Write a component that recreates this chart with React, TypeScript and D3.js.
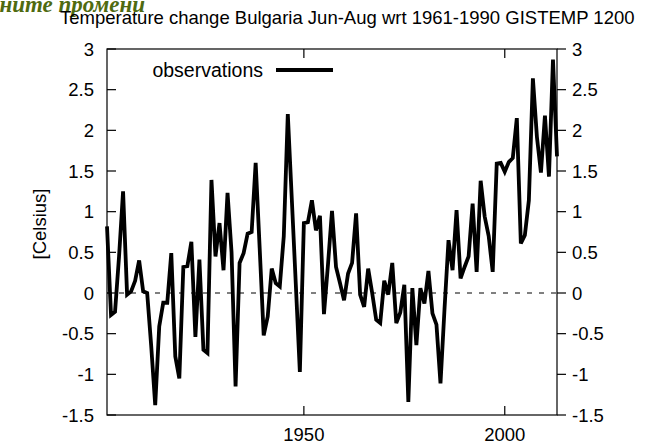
import React from "react";
import * as d3 from "d3";

const years: number[] = [
  1901, 1902, 1903, 1904, 1905, 1906, 1907, 1908, 1909, 1910,
  1911, 1912, 1913, 1914, 1915, 1916, 1917, 1918, 1919, 1920,
  1921, 1922, 1923, 1924, 1925, 1926, 1927, 1928, 1929, 1930,
  1931, 1932, 1933, 1934, 1935, 1936, 1937, 1938, 1939, 1940,
  1941, 1942, 1943, 1944, 1945, 1946, 1947, 1948, 1949, 1950,
  1951, 1952, 1953, 1954, 1955, 1956, 1957, 1958, 1959, 1960,
  1961, 1962, 1963, 1964, 1965, 1966, 1967, 1968, 1969, 1970,
  1971, 1972, 1973, 1974, 1975, 1976, 1977, 1978, 1979, 1980,
  1981, 1982, 1983, 1984, 1985, 1986, 1987, 1988, 1989, 1990,
  1991, 1992, 1993, 1994, 1995, 1996, 1997, 1998, 1999, 2000,
  2001, 2002, 2003, 2004, 2005, 2006, 2007, 2008, 2009, 2010,
  2011, 2012, 2013,
];

const observations: number[] = [
  0.82, -0.27, -0.23, 0.45, 1.25, -0.02, 0.02, 0.15, 0.4, 0.02,
  0.0, -0.65, -1.38, -0.41, -0.12, -0.12, 0.49, -0.78, -1.05, 0.32,
  0.33, 0.63, -0.54, 0.41, -0.7, -0.74, 1.39, 0.45, 0.86, 0.28,
  1.23, 0.5, -1.15, 0.37, 0.49, 0.73, 0.75, 1.6, 0.55, -0.52,
  -0.29, 0.3, 0.12, 0.08, 0.7, 2.2, 1.15, 0.1, -0.97, 0.86,
  0.87, 1.14, 0.77, 0.95, -0.26, 0.35, 1.01, 0.32, 0.12, -0.09,
  0.24, 0.37, 0.98, -0.02, -0.17, 0.3, 0.0, -0.33, -0.37, 0.15,
  -0.02, 0.37, -0.37, -0.24, 0.1, -1.34, 0.06, -0.64, 0.06, -0.13,
  0.27, -0.25, -0.39, -1.11, -0.2, 0.65, 0.28, 1.02, 0.18, 0.32,
  0.45, 1.1, 0.26, 1.38, 0.94, 0.7, 0.26, 1.59, 1.6, 1.49,
  1.61, 1.66, 2.15, 0.61, 0.71, 1.14, 2.64, 1.92, 1.48, 2.18,
  1.43, 2.87, 1.68,
];

const yTicks: number[] = [-1.5, -1, -0.5, 0, 0.5, 1, 1.5, 2, 2.5, 3];
const yTickLabels: string[] = ["-1.5", "-1", "-0.5", "0", "0.5", "1", "1.5", "2", "2.5", "3"];
const xTicks: number[] = [1950, 2000];
const xTickLabels: string[] = ["1950", "2000"];

const titleText = "Temperature change Bulgaria Jun-Aug wrt 1961-1990 GISTEMP 1200";
const headerText = "Климатичните промени";
const yLabel = "[Celsius]";
const legendLabel = "observations";

export default function App() {
  const W = 648;
  const H = 445;
  const left = 107;
  const right = 557;
  const top = 49;
  const bottom = 415;

  const x = d3.scaleLinear().domain([1901, 2013]).range([left, right]);
  const y = d3.scaleLinear().domain([-1.5, 3]).range([bottom, top]);

  const data = years.map((yr, i) => ({ yr, v: observations[i] }));
  const line = d3
    .line<{ yr: number; v: number }>()
    .x((d) => x(d.yr))
    .y((d) => y(d.v));

  const font = "'Liberation Sans', Arial, Helvetica, sans-serif";
  const fs = 18.5;

  return (
    <svg
      width={W}
      height={H}
      viewBox={`0 0 ${W} ${H}`}
      style={{ position: "absolute", left: 0, top: 0, background: "#fff" }}
    >
      <rect x={0} y={0} width={W} height={H} fill="#fff" />
      <text
        x={145}
        y={12}
        textAnchor="end"
        fontFamily="'Liberation Serif', 'DejaVu Serif', serif"
        fontStyle="italic"
        fontWeight="bold"
        fontSize={23}
        fill="#4f6a10"
      >
        {headerText}
      </text>
      <text x={60} y={24} fontFamily={font} fontSize={fs} fill="#000">
        {titleText}
      </text>

      {/* zero line */}
      <line
        x1={left}
        x2={right}
        y1={y(0)}
        y2={y(0)}
        stroke="#000"
        strokeWidth={1}
        strokeDasharray="5,7"
      />

      {/* data */}
      <path d={line(data) || ""} fill="none" stroke="#000" strokeWidth={3.8} strokeLinejoin="miter" />

      {/* frame */}
      <rect x={left} y={top} width={right - left} height={bottom - top} fill="none" stroke="#000" strokeWidth={1.2} />

      {/* y ticks left (inward) and right (outward) */}
      {yTicks.map((t, i) => (
        <g key={"yt" + i}>
          <line x1={left} x2={left + 9} y1={y(t)} y2={y(t)} stroke="#000" strokeWidth={1.2} />
          <line x1={right} x2={right + 9} y1={y(t)} y2={y(t)} stroke="#000" strokeWidth={1.2} />
          <text x={94} y={y(t) + 6.5} textAnchor="end" fontFamily={font} fontSize={fs} fill="#000">
            {yTickLabels[i]}
          </text>
          <text x={572} y={y(t) + 6.5} textAnchor="start" fontFamily={font} fontSize={fs} fill="#000">
            {yTickLabels[i]}
          </text>
        </g>
      ))}

      {/* x ticks */}
      {xTicks.map((t, i) => (
        <g key={"xt" + i}>
          <line x1={x(t)} x2={x(t)} y1={bottom} y2={bottom - 9} stroke="#000" strokeWidth={1.2} />
          <line x1={x(t)} x2={x(t)} y1={top} y2={top + 9} stroke="#000" strokeWidth={1.2} />
          <text x={x(t)} y={441} textAnchor="middle" fontFamily={font} fontSize={fs} fill="#000">
            {xTickLabels[i]}
          </text>
        </g>
      ))}

      {/* y label */}
      <text
        transform={`translate(46, 224) rotate(-90)`}
        textAnchor="middle"
        fontFamily={font}
        fontSize={fs}
        fill="#000"
      >
        {yLabel}
      </text>

      {/* legend */}
      <text x={263} y={77} textAnchor="end" fontFamily={font} fontSize={19.5} fill="#000">
        {legendLabel}
      </text>
      <line x1={276} x2={333} y1={70} y2={70} stroke="#000" strokeWidth={3.8} />
    </svg>
  );
}
